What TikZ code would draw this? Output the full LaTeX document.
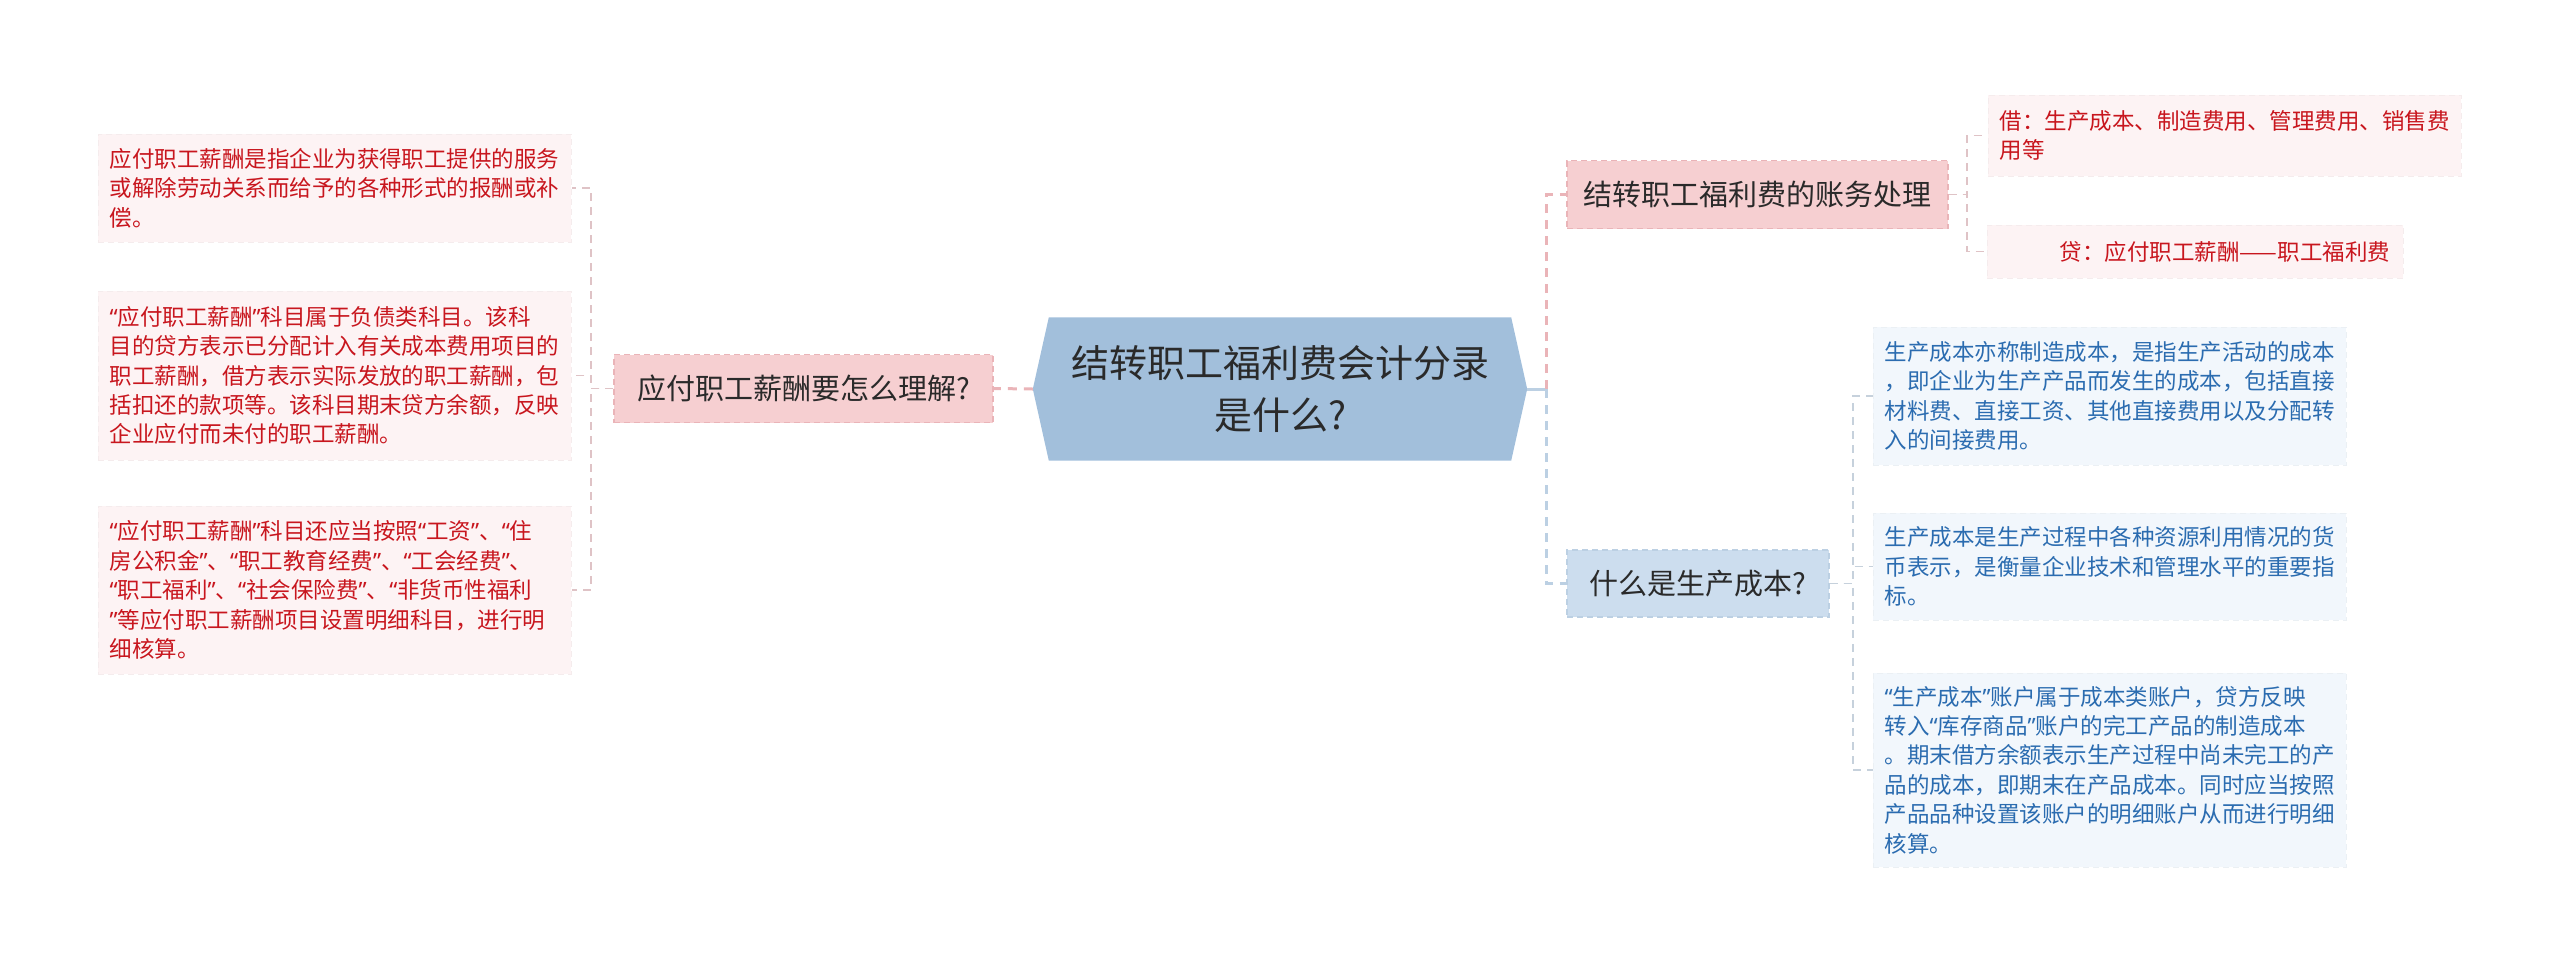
\documentclass[tikz,border=0pt]{standalone}
\usepackage{fontspec}
\setmainfont{Noto Sans CJK SC}
\newfontfamily\quotefont{Noto Sans}
\newcommand\oq{{\quotefont “}}
\newcommand\cq{{\quotefont ”}}
\usetikzlibrary{backgrounds}

\definecolor{ink}{HTML}{2A2A2A}
\definecolor{hexfill}{HTML}{A2BFDB}
\definecolor{pinkfill}{HTML}{F6CFD1}
\definecolor{pinkline}{HTML}{EAB4B8}
\definecolor{pinktwig}{HTML}{DFC3C6}
\definecolor{leafpink}{HTML}{FDF3F4}
\definecolor{redtext}{HTML}{C8161E}
\definecolor{bluefill}{HTML}{CCDDEE}
\definecolor{blueline}{HTML}{BCD0E3}
\definecolor{bluetwig}{HTML}{C6D1DC}
\definecolor{leafblue}{HTML}{F2F7FC}
\definecolor{bluetext}{HTML}{2B6CB0}

\begin{document}
\begin{tikzpicture}[x=1pt, y=-1pt,
    topic/.style={font=\fontsize{38}{52}\selectfont, text=ink, align=center,
      minimum width=494pt, minimum height=143pt, inner sep=0pt},
    branch/.style={font=\fontsize{29}{36}\selectfont, text=ink, fill=#1fill,
      draw=#1line, line width=1.4pt, dash pattern=on 6pt off 4pt,
      minimum height=68pt, inner sep=0pt},
    leaf/.style={font=\fontsize{22.5}{29.4}\selectfont, fill=leaf#1,
      draw=leaf#1!97!black, line width=1pt, dash pattern=on 6pt off 4pt,
      text width=450pt, align=left, inner xsep=11.5pt, inner ysep=0pt},
    trunk/.style={line width=3pt, dash pattern=on 9pt off 7pt},
    twig/.style={line width=1.6pt, dash pattern=on 8pt off 6pt}]
  \useasboundingbox (0,0) rectangle (2560,967);

  % central topic
  \node[topic] (c) at (1280,389) {结转职工福利费会计分录\\是什么?};
  \begin{scope}[on background layer]
    \fill[hexfill] (c.west) -- ([xshift=16pt]c.north west) -- ([xshift=-16pt]c.north east)
      -- (c.east) -- ([xshift=-16pt]c.south east) -- ([xshift=16pt]c.south west) -- cycle;
  \end{scope}

  % left branch
  \node[branch=pink, minimum width=379pt] (lq) at (803.5,388.5) {应付职工薪酬要怎么理解?};
  \node[leaf=pink, text=redtext, minimum height=108pt] (l1) at (334.5,188)
    {应付职工薪酬是指企业为获得职工提供的服务\\或解除劳动关系而给予的各种形式的报酬或补\\偿。};
  \node[leaf=pink, text=redtext, minimum height=169pt] (l2) at (334.5,375.5)
    {\oq 应付职工薪酬\cq 科目属于负债类科目。该科\\目的贷方表示已分配计入有关成本费用项目的\\职工薪酬，借方表示实际发放的职工薪酬，包\\括扣还的款项等。该科目期末贷方余额，反映\\企业应付而未付的职工薪酬。};
  \node[leaf=pink, text=redtext, minimum height=168pt] (l3) at (334.5,590)
    {\oq 应付职工薪酬\cq 科目还应当按照\oq 工资\cq 、\oq 住\\房公积金\cq 、\oq 职工教育经费\cq 、\oq 工会经费\cq 、\\\oq 职工福利\cq 、\oq 社会保险费\cq 、\oq 非货币性福利\\\cq 等应付职工薪酬项目设置明细科目，进行明\\细核算。};

  % right branches
  \node[branch=pink, minimum width=381pt] (acc) at (1757.5,194.5) {结转职工福利费的账务处理};
  \node[leaf=pink, text=redtext, minimum height=81pt] (a1) at (2224.5,135.5)
    {借：生产成本、制造费用、管理费用、销售费\\用等};
  \node[leaf=pink, text=redtext, text width=390pt, align=right, inner xsep=13pt,
    minimum height=53pt] (a2) at (2195,251.5) {贷：应付职工薪酬——职工福利费};

  \node[branch=blue, minimum width=262pt, minimum height=67pt] (cost) at (1698,583.5) {什么是生产成本?};
  \node[leaf=blue, text=bluetext, minimum height=138pt] (b1) at (2109.5,396)
    {生产成本亦称制造成本，是指生产活动的成本\\，即企业为生产产品而发生的成本，包括直接\\材料费、直接工资、其他直接费用以及分配转\\入的间接费用。};
  \node[leaf=blue, text=bluetext, minimum height=107pt] (b2) at (2109.5,566.5)
    {生产成本是生产过程中各种资源利用情况的货\\币表示，是衡量企业技术和管理水平的重要指\\标。};
  \node[leaf=blue, text=bluetext, minimum height=194pt] (b3) at (2109.5,770)
    {\oq 生产成本\cq 账户属于成本类账户，贷方反映\\转入\oq 库存商品\cq 账户的完工产品的制造成本\\。期末借方余额表示生产过程中尚未完工的产\\品的成本，即期末在产品成本。同时应当按照\\产品品种设置该账户的明细账户从而进行明细\\核算。};

  % connectors
  \coordinate (ls) at (591,388.5);
  \coordinate (rs) at (1546,389);
  \coordinate (as) at (1967,194.5);
  \coordinate (bs) at (1853,583.5);
  \draw[trunk, pinkline] (c.west) -- (lq.east);
  \draw[line width=3pt, blueline] (c.east) -- (rs);
  \draw[trunk, pinkline] (rs) |- (acc.west);
  \draw[trunk, blueline] (rs) |- (cost.west);
  \foreach \n in {l1,l2,l3}
    \draw[twig, pinktwig] (lq.west) -- (ls) |- (\n.east);
  \foreach \n in {a1,a2}
    \draw[twig, pinktwig] (acc.east) -- (as) |- (\n.west);
  \foreach \n in {b1,b2,b3}
    \draw[twig, bluetwig] (cost.east) -- (bs) |- (\n.west);
\end{tikzpicture}
\end{document}
